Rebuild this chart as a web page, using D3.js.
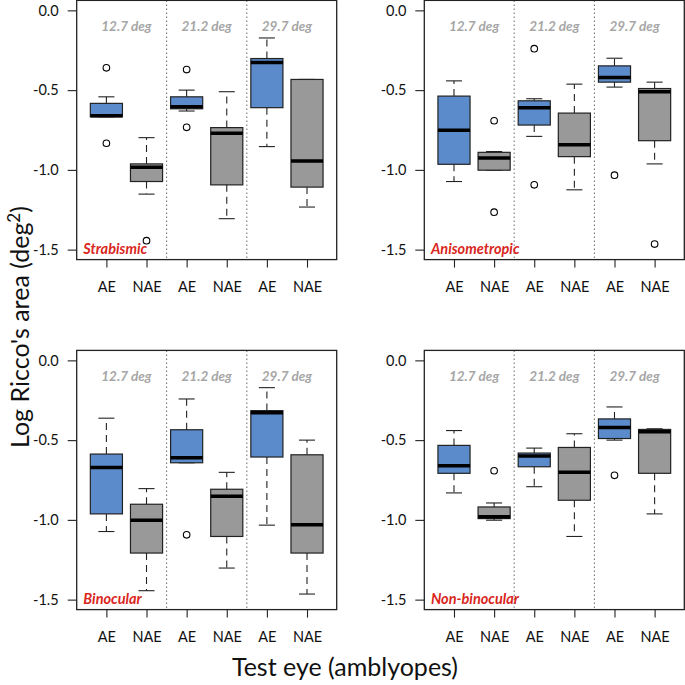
<!DOCTYPE html>
<html><head><meta charset="utf-8">
<script src="https://cdn.jsdelivr.net/npm/d3@7"></script>
<style>body{margin:0;background:#fff} svg{display:block;font-family:Lato,"Open Sans",sans-serif}</style>
</head><body><svg id="c" width="685" height="685"></svg>
<script>
// ---------------- data ----------------
const categories = ["AE","NAE","AE","NAE","AE","NAE"];
const eccentricities = ["12.7 deg","21.2 deg","29.7 deg"];
const panelNames = ["Strabismic","Anisometropic","Binocular","Non-binocular"];
const yTicks = [0, -0.5, -1.0, -1.5];
const yTickLabels = ["0.0","-0.5","-1.0","-1.5"];
const boxColors = ["#5b8bcb","#999999","#5b8bcb","#999999","#5b8bcb","#999999"];

// each box: [lower whisker, Q1, median, Q3, upper whisker]
const strabismicStats = [
  [-0.667,-0.667,-0.66,-0.583,-0.542],
  [-1.152,-1.073,-0.983,-0.9625,-0.798],
  [-0.631,-0.617,-0.604,-0.542,-0.5],
  [-1.306,-1.094,-0.771,-0.735,-0.51],
  [-0.854,-0.61,-0.327,-0.302,-0.173],
  [-1.233,-1.108,-0.944,-0.433,-0.433]
];
const strabismicOutliers = [[-0.36,-0.833],[-1.444],[-0.371,-0.733],[],[],[]];

const anisometropicStats = [
  [-1.073,-0.965,-0.752,-0.5375,-0.442],
  [-1.002,-1.002,-0.925,-0.89,-0.885],
  [-0.79,-0.719,-0.61,-0.567,-0.554],
  [-1.125,-0.917,-0.842,-0.644,-0.4625],
  [-0.481,-0.45,-0.421,-0.348,-0.30],
  [-0.9625,-0.817,-0.51,-0.49,-0.45]
];
const anisometropicOutliers = [[],[-0.692,-1.265],[-0.24,-1.094],[],[-1.033],[-1.465]];

const binocularStats = [
  [-1.073,-0.9625,-0.671,-0.5875,-0.3625],
  [-1.444,-1.208,-1.002,-0.902,-0.804],
  [-0.642,-0.642,-0.61,-0.435,-0.242],
  [-1.302,-1.104,-0.852,-0.808,-0.702],
  [-1.033,-0.606,-0.329,-0.315,-0.171],
  [-1.465,-1.208,-1.031,-0.592,-0.5]
];
const binocularOutliers = [[],[],[-1.094],[],[],[]];

const nonBinocularStats = [
  [-0.831,-0.708,-0.66,-0.533,-0.44],
  [-1.002,-0.992,-0.981,-0.919,-0.894],
  [-0.792,-0.667,-0.6,-0.581,-0.55],
  [-1.104,-0.877,-0.702,-0.546,-0.46],
  [-0.5,-0.49,-0.421,-0.367,-0.292],
  [-0.9625,-0.708,-0.448,-0.433,-0.429]
];
const nonBinocularOutliers = [[],[-0.692],[],[],[-0.721],[]];

const panelStats = [strabismicStats, anisometropicStats, binocularStats, nonBinocularStats];
const panelOutliers = [strabismicOutliers, anisometropicOutliers, binocularOutliers, nonBinocularOutliers];

// ---------------- layout ----------------
const svg = d3.select("#c");
const W = 260, H = 259.2;
const origins = [[76.7,0.4],[424.3,0.4],[76.7,350.4],[424.3,350.4]];

panelNames.forEach((name, p) => {
  const [x0, y0] = origins[p];
  const x = d3.scaleLinear().domain([0.26, 6.74]).range([x0, x0 + W]);
  const y = d3.scaleLinear().domain([-1.5625, 0.0625]).range([y0 + H, y0]);
  const g = svg.append("g");

  // separators
  [2.5, 4.5].forEach(s => g.append("line")
    .attr("x1", x(s)).attr("x2", x(s)).attr("y1", y0).attr("y2", y0 + H)
    .attr("stroke", "#777").attr("stroke-width", 1.1).attr("stroke-dasharray", "1.5,2.5"));

  // headers
  eccentricities.forEach((e, i) => g.append("text")
    .attr("x", x(1.5 + 2 * i)).attr("y", y0 + 31)
    .attr("text-anchor", "middle").attr("font-size", 13.5).attr("font-weight", "bold")
    .attr("font-style", "italic").attr("fill", "#a6a6a6").text(e));

  // boxes
  const bw = x(0.4) - x(0), sw = x(0.2) - x(0);
  panelStats[p].forEach((s, i) => {
    const cx = x(i + 1);
    const [lo, q1, med, q3, hi] = s;
    const bg = g.append("g");
    bg.append("line").attr("x1", cx).attr("x2", cx).attr("y1", y(q3)).attr("y2", y(hi))
      .attr("stroke", "#222").attr("stroke-width", 1.1).attr("stroke-dasharray", "7,5");
    bg.append("line").attr("x1", cx).attr("x2", cx).attr("y1", y(q1)).attr("y2", y(lo))
      .attr("stroke", "#222").attr("stroke-width", 1.1).attr("stroke-dasharray", "7,5");
    [lo, hi].forEach(v => bg.append("line").attr("x1", cx - sw).attr("x2", cx + sw)
      .attr("y1", y(v)).attr("y2", y(v)).attr("stroke", "#222").attr("stroke-width", 1.1));
    bg.append("rect").attr("x", cx - bw).attr("width", 2 * bw)
      .attr("y", y(q3)).attr("height", y(q1) - y(q3))
      .attr("fill", boxColors[i]).attr("stroke", "#222").attr("stroke-width", 1.2);
    bg.append("line").attr("x1", cx - bw).attr("x2", cx + bw)
      .attr("y1", y(med)).attr("y2", y(med)).attr("stroke", "#000").attr("stroke-width", 3.5);
    panelOutliers[p][i].forEach(o => bg.append("circle").attr("cx", cx).attr("cy", y(o))
      .attr("r", 3.3).attr("fill", "none").attr("stroke", "#000").attr("stroke-width", 1.1));
  });

  // panel label
  g.append("text").attr("x", x0 + 6.6).attr("y", y0 + H - 5.5)
    .attr("font-size", 14.5).attr("font-weight", "bold").attr("font-style", "italic")
    .attr("fill", "#d9261c").text(name);

  // frame
  g.append("rect").attr("x", x0).attr("y", y0).attr("width", W).attr("height", H)
    .attr("fill", "none").attr("stroke", "#222").attr("stroke-width", 1.3);

  // axes
  const ya = d3.axisLeft(y).tickValues(yTicks).tickSize(9).tickPadding(9)
    .tickFormat((d, i) => yTickLabels[i]);
  const yg = g.append("g").attr("transform", `translate(${x0},0)`).call(ya);
  yg.select(".domain").remove();
  yg.selectAll("line").attr("stroke", "#222").attr("stroke-width", 1.1);
  yg.selectAll("text").attr("font-size", 14.5).attr("fill", "#111").attr("font-family", "Lato,sans-serif");

  const xa = d3.axisBottom(x).tickValues(d3.range(1, 7)).tickSize(8).tickPadding(14)
    .tickFormat((d, i) => categories[i]);
  const xg = g.append("g").attr("transform", `translate(0,${y0 + H})`).call(xa);
  xg.select(".domain").remove();
  xg.selectAll("line").attr("stroke", "#222").attr("stroke-width", 1.1);
  xg.selectAll("text").attr("font-size", 14.5).attr("fill", "#111").attr("font-family", "Lato,sans-serif");
});

// axis titles
svg.append("text").attr("transform", "translate(29,327) rotate(-90)")
  .attr("text-anchor", "middle").attr("font-size", 25).attr("fill", "#111")
  .html("Log Ricco's area (deg<tspan dy='-9' font-size='17'>2</tspan><tspan dy='9'>)</tspan>");
svg.append("text").attr("x", 345).attr("y", 676).attr("text-anchor", "middle")
  .attr("font-size", 25).attr("fill", "#111").text("Test eye (amblyopes)");
</script></body></html>
